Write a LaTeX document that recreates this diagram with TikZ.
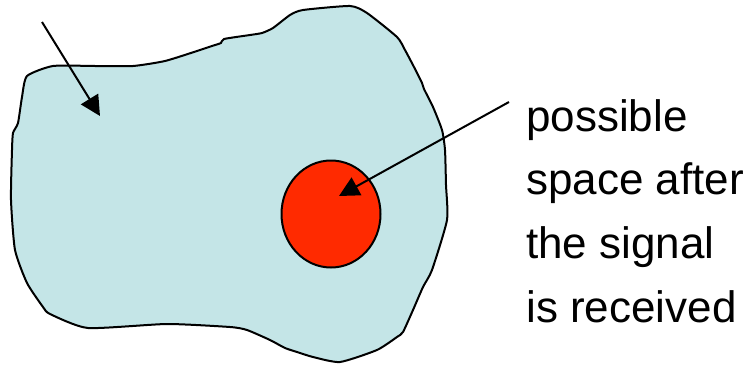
\documentclass[tikz,border=0pt]{standalone}
\usepackage{fontspec}
\setmainfont{Liberation Sans}
\usetikzlibrary{arrows.meta}
\definecolor{blobfill}{RGB}{196,229,231}
\definecolor{sigred}{RGB}{255,42,0}
\tikzset{
  blob/.style={draw=black, line width=1.5pt, fill=blobfill, line join=round},
  sigcircle/.style={draw=black, line width=1.5pt, fill=sigred},
  pointer/.style={draw=black, line width=1.5pt, -{Triangle[length=15pt,width=15pt]}},
  lbl/.style={anchor=base west, inner sep=0pt, font=\fontsize{33pt}{39pt}\selectfont}
}
\begin{document}
\begin{tikzpicture}[x=0.75pt,y=-0.75pt]
\useasboundingbox (0,0) rectangle (749,364);
% region outline
\draw[blob] plot[smooth cycle, tension=0.35] coordinates {
 (27,76) (53,66) (95,66) (133,66) (165,61) (197,51) (212,46) (221,43) (224,39)
 (250,35) (262,33) (273,28) (290,15) (303,10) (350,6) (367,13) (397,37) (405,50)
 (414,67) (422,83) (424,89) (433,107) (442,130) (445,150) (446,185) (447,220)
 (432,270) (423,287) (413,310) (403,332) (397,337) (377,350) (340,362) (313,357)
 (297,352) (285,348) (270,340) (247,330) (230,327) (167,324) (88,328) (50,314)
 (43,307) (27,283) (15,250) (11,200) (12,150) (13,133) (18,123) (22,97)};
% signal region
\draw[sigcircle] (331,214) ellipse [x radius=49.5, y radius=53.5];
\coordinate (sigtip) at (339,196);
\coordinate (regtip) at (100,116);
\coordinate (s1) at (42,22);
\coordinate (s2) at (509,102);
\draw[pointer] (s1) -- (regtip);
\draw[pointer] (s2) -- (sigtip);
% label
\node[lbl] (l1) at (526,131) {possible};
\node[lbl] (l2) at (526,194) {space after};
\node[lbl] (l3) at (526,258) {the signal};
\node[lbl] (l4) at (526,322) {is received};
\end{tikzpicture}
\end{document}
